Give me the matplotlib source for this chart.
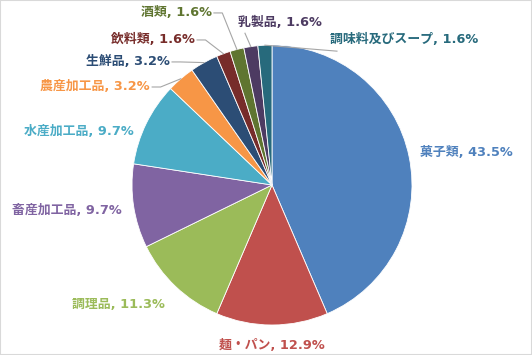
import numpy as np
import matplotlib.pyplot as plt
from matplotlib.patches import Rectangle

plt.rcParams['font.family'] = ['DejaVu Sans', 'Noto Sans CJK JP']

categories = ['菓子類', '麺・パン', '調理品', '畜産加工品', '水産加工品', '農産加工品',
              '生鮮品', '飲料類', '酒類', '乳製品', '調味料及びスープ']
counts = [27, 8, 7, 6, 6, 2, 2, 1, 1, 1, 1]
colors = ['#4F81BD', '#C0504D', '#9BBB59', '#8064A2', '#4BACC6', '#F79646',
          '#2C4D75', '#772C2A', '#5F7530', '#4D3B62', '#276A7C']

# label anchor positions (layout, radius units) and alignment
label_pos = [(1.057, 0.229), (0.0, -1.143), (-0.764, -0.857), (-1.07, -0.179),
             (-0.986, 0.379), (-0.871, 0.70), (-0.729, 0.879), (-0.55, 1.036),
             (-0.43, 1.229), (-0.243, 1.164), (0.414, 1.036)]
label_ha = ['left', 'center', 'right', 'right', 'right', 'right', 'right',
            'right', 'right', 'left', 'left']
leader = [False] * 5 + [True] * 6

fig = plt.figure(figsize=(5.32, 3.55), dpi=100)
ax = fig.add_axes([0, 0, 1, 1])

wedges, _ = ax.pie(counts, colors=colors, startangle=90, counterclock=False,
                   radius=1.0, wedgeprops=dict(edgecolor='white', linewidth=0.6))

total = sum(counts)
for i, w in enumerate(wedges):
    pct = counts[i] / total * 100
    x, y = label_pos[i]
    ax.text(x, y, f'{categories[i]}, {pct:.1f}%', ha=label_ha[i], va='center',
            fontsize=9.3, fontweight='bold', color=colors[i])
    if leader[i]:
        ang = np.deg2rad((w.theta1 + w.theta2) / 2)
        px, py = np.cos(ang), np.sin(ang)
        if label_ha[i] == 'right':
            sx = x + 0.015
            ex = sx + 0.06
            ax.plot([sx, ex, px], [y, y, py], color='#A6A6A6', lw=0.8)
        else:
            ax.plot([x + 0.05, px], [y - 0.08, py], color='#A6A6A6', lw=0.8)

ax.set_aspect('equal')
ax.set_xlim(-272 / 140, (532 - 272) / 140)
ax.set_ylim(-(355 - 185) / 140, 185 / 140)
ax.axis('off')

fig.patches.append(Rectangle((0, 0), 1, 1, transform=fig.transFigure, fill=False,
                             edgecolor='#D9D9D9', linewidth=1.5))
fig.savefig('out.png', dpi=100)
